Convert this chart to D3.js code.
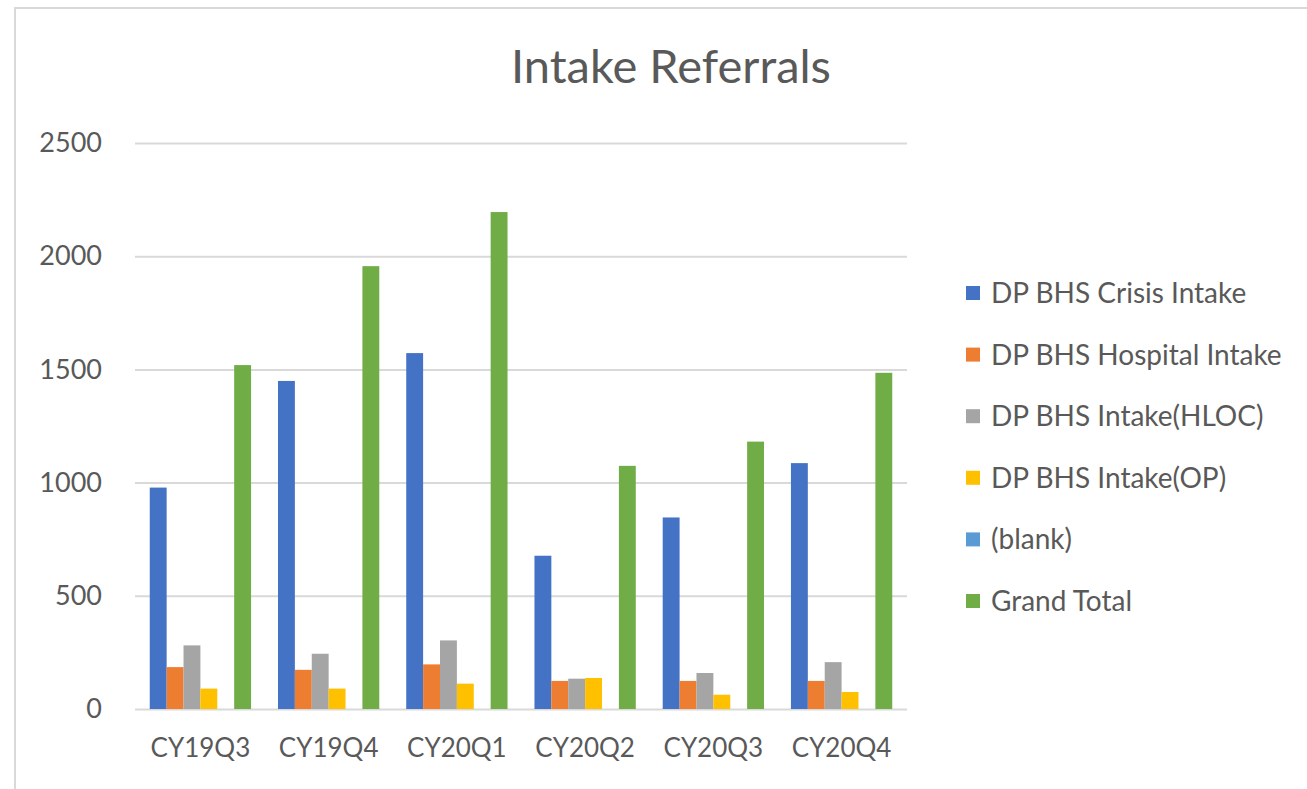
<!DOCTYPE html>
<html>
<head>
<meta charset="utf-8">
<script src="https://cdn.jsdelivr.net/npm/d3@7"></script>
<style>
  body { margin: 0; background: #fff; }
  text { font-family: Lato, "Open Sans", sans-serif; fill: #595959; }
</style>
</head>
<body>
<div id="chart"></div>
<script>
// Data
var quarters = ["CY19Q3", "CY19Q4", "CY20Q1", "CY20Q2", "CY20Q3", "CY20Q4"];
var seriesNames = ["DP BHS Crisis Intake", "DP BHS Hospital Intake", "DP BHS Intake(HLOC)",
                   "DP BHS Intake(OP)", "(blank)", "Grand Total"];
var crisis   = [978, 1449, 1572, 677, 846, 1086];
var hospital = [185, 173, 197, 124, 124, 124];
var hloc     = [281, 244, 303, 134, 159, 207];
var op       = [90, 90, 112, 137, 63, 75];
var blank    = [0, 0, 0, 0, 0, 0];
var total    = [1519, 1956, 2195, 1074, 1181, 1485];
var yTicks   = [0, 500, 1000, 1500, 2000, 2500];
var colors   = ["#4472C4", "#ED7D31", "#A5A5A5", "#FFC000", "#5B9BD5", "#70AD47"];

var seriesValues = [crisis, hospital, hloc, op, blank, total];

var svgWidth = 1307;
var svgHeight = 789;

var svg = d3.select("#chart")
    .append("svg")
    .attr("width", svgWidth)
    .attr("height", svgHeight);

// chart frame
svg.append("path")
    .attr("d", "M15,789 L15,8 L1307,8")
    .attr("fill", "none")
    .attr("stroke", "#d9d9d9")
    .attr("stroke-width", 2);

//Scales
var x0 = d3.scaleBand()
    .domain(quarters)
    .range([135, 907])
    .paddingInner(0.21)
    .paddingOuter(0.115);

var x1 = d3.scaleBand()
    .domain(d3.range(seriesNames.length))
    .range([0, x0.bandwidth()]);

var y = d3.scaleLinear()
    .domain([0, 2500])
    .range([709, 143]);

//Gridlines + y labels
var yAxis = svg.append("g")
    .attr("transform", "translate(135,0)")
    .call(d3.axisLeft(y).tickValues(yTicks).tickFormat(d3.format("d")).tickSize(-772).tickPadding(33));
yAxis.select(".domain").remove();
yAxis.selectAll("line").attr("stroke", "#d9d9d9").attr("stroke-width", 2);
yAxis.selectAll("text")
    .attr("font-size", 27)
    .attr("font-family", "Lato, sans-serif")
    .attr("fill", "#595959");

//Bars
var groups = svg.selectAll(".grp")
    .data(quarters)
    .enter()
    .append("g")
    .attr("transform", d => `translate(${x0(d)},0)`);

groups.selectAll("rect")
    .data((q, qi) => seriesValues.map((vals, si) => ({ s: si, v: vals[qi] })))
    .enter()
    .append("rect")
    .attr("x", d => x1(d.s))
    .attr("width", x1.bandwidth())
    .attr("y", d => y(d.v))
    .attr("height", d => y(0) - y(d.v))
    .attr("fill", d => colors[d.s]);

//X labels
var xAxis = svg.append("g")
    .attr("transform", "translate(0,709)")
    .call(d3.axisBottom(x0).tickSize(0).tickPadding(30));
xAxis.select(".domain").remove();
xAxis.selectAll("text")
    .attr("font-size", 26)
    .attr("font-family", "Lato, sans-serif")
    .attr("fill", "#595959");

//Title
svg.append("text")
    .attr("x", 671)
    .attr("y", 83)
    .attr("text-anchor", "middle")
    .attr("font-size", 47)
    .text("Intake Referrals");

//Legend
var legend = svg.selectAll(".leg")
    .data(seriesNames)
    .enter()
    .append("g")
    .attr("transform", (d, i) => `translate(966, ${293 + i * 61.6})`);

legend.append("rect")
    .attr("x", 0)
    .attr("y", -7)
    .attr("width", 14)
    .attr("height", 14)
    .attr("fill", (d, i) => colors[i]);

legend.append("text")
    .attr("x", 25)
    .attr("y", 0)
    .attr("dy", "0.36em")
    .attr("font-size", 28)
    .text(d => d);
</script>
</body>
</html>
